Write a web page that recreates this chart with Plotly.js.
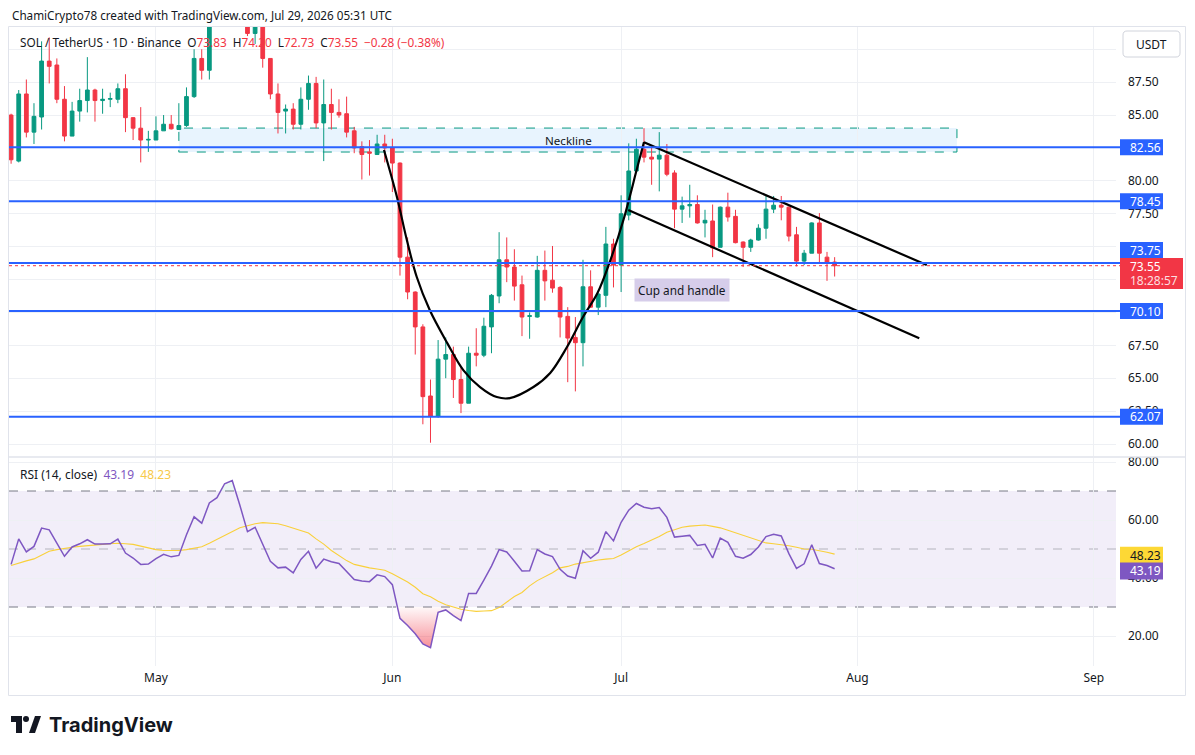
<!DOCTYPE html>
<html><head><meta charset="utf-8">
<script src="https://cdn.plot.ly/plotly-3.0.1.min.js"></script>
<style>html,body{margin:0;padding:0;background:#fff;}#chart{width:1195px;height:755px;}</style>
</head><body><div id="chart"></div>
<script>
// ---- data (SOL/USDT daily, Apr 12 – Jul 29 2026) ----
const firstDay = [2026, 3, 12]; // 2026-04-12 (month is 0-based)
const open  = [85.0,81.5,86.6,83.7,84.85,89.1,88.8,86.2,83.4,85.3,86.1,86.9,86.1,86.2,86.2,87.0,84.8,84.0,83.1,83.1,83.8,84.3,83.9,84.2,86.4,89.3,88.4,93.4,95.3,96.8,97.3,93.8,91.2,92.1,89.3,86.6,85.3,85.45,84.3,86.2,87.4,84.4,85.8,85.2,85.1,83.8,82.6,82.2,82.0,82.8,82.5,81.35,74.2,71.55,68.9,63.65,62.1,66.45,66.8,64.9,63.1,66.9,66.75,68.9,71.25,74.0,73.45,72.1,69.7,69.65,73.2,72.45,71.9,69.7,68.1,67.7,71.95,70.4,71.3,75.2,73.6,77.4,80.75,82.4,81.8,81.65,81.95,80.6,77.85,78.1,78.2,76.8,76.95,74.95,78.0,77.3,75.35,74.95,75.5,76.4,77.85,78.15,78.0,75.9,73.9,74.5,76.8,74.2,73.83];
const high  = [85.1,86.9,87.7,85.9,90.6,90.9,89.3,87.2,86.0,87.0,89.4,87.0,87.0,86.7,87.4,88.1,84.85,85.6,83.8,84.9,85.0,85.0,85.9,87.1,90.0,90.0,94.2,96.2,97.5,98.0,97.6,94.5,92.6,92.6,89.3,87.4,85.8,85.9,87.1,88.0,87.9,87.7,87.0,86.2,86.4,84.1,83.0,83.1,83.5,83.5,83.2,81.4,75.7,71.6,69.1,64.9,67.9,68.1,67.4,65.8,67.4,68.8,69.6,71.4,76.1,75.7,74.8,72.8,70.0,74.3,74.7,75.05,72.0,70.4,69.65,74.0,73.2,71.45,76.5,75.6,78.9,82.85,83.2,84.0,82.6,83.7,82.8,80.8,78.8,79.7,78.9,77.8,78.2,78.05,79.1,77.8,75.4,75.6,76.7,78.85,78.85,78.85,78.05,76.5,74.75,76.85,77.55,74.6,74.2];
const low   = [81.3,81.4,83.3,82.8,83.9,87.4,85.9,83.0,83.4,84.5,85.2,84.5,85.1,85.6,85.9,83.7,83.1,81.4,82.2,83.1,83.8,83.9,83.9,84.1,86.3,87.7,87.7,92.5,94.0,95.5,93.0,91.0,90.4,88.6,86.2,83.6,83.6,83.9,83.9,85.4,84.0,81.5,83.9,84.8,83.3,82.1,80.1,80.4,82.0,81.4,79.15,72.8,71.0,66.8,61.5,60.1,62.0,65.0,63.5,62.35,63.1,65.9,66.6,66.9,70.7,72.3,70.9,68.2,68.0,69.6,70.9,71.5,68.1,64.7,64.0,65.9,70.35,69.8,70.4,71.9,71.55,77.0,80.7,81.4,79.7,79.2,80.35,76.4,76.8,77.2,76.75,75.7,74.2,74.95,76.9,75.25,73.45,74.6,75.45,75.6,77.55,77.0,75.4,73.5,73.6,74.5,73.75,72.4,72.73];
const close = [81.6,86.6,83.7,84.9,89.1,88.7,86.2,83.4,85.3,86.1,86.9,86.1,86.2,86.25,87.0,84.8,84.0,83.1,83.15,83.8,84.3,83.95,84.2,86.4,89.3,88.4,93.4,95.3,96.8,97.3,93.8,91.2,92.1,89.3,86.6,85.2,85.45,84.3,86.2,87.4,84.4,85.8,85.2,85.0,83.7,82.5,82.0,82.1,82.8,82.5,81.35,74.2,71.55,68.9,63.6,62.1,66.45,66.8,64.9,63.1,66.9,66.75,68.95,71.3,74.0,73.45,72.0,69.65,69.75,73.2,72.4,71.85,69.65,68.05,67.7,71.95,70.4,71.4,75.2,73.6,77.5,80.75,82.4,81.8,81.65,81.95,80.5,77.85,78.1,78.2,76.8,77.0,74.9,78.0,77.25,75.3,74.95,75.5,76.4,77.85,78.15,78.0,75.8,73.9,74.5,76.8,74.5,73.75,73.55];
const rsi   = [44.7,53.5,49.0,50.9,57.2,56.6,52.0,47.5,50.7,51.8,53.2,51.7,51.7,51.8,53.4,48.6,46.9,44.7,44.8,46.7,48.2,47.3,47.8,54.9,61.1,58.9,65.9,67.7,72.5,73.6,65.1,56.0,57.5,51.5,45.8,43.5,43.75,41.8,46.4,49.2,43.4,46.5,45.6,45.0,42.4,39.5,39.0,38.75,41.1,40.5,37.7,26.1,23.6,20.8,17.3,16.0,28.2,29.0,27.0,25.3,34.7,34.7,39.3,44.1,49.8,49.0,45.8,42.4,42.5,49.8,48.3,47.4,43.0,40.7,39.9,49.4,46.8,48.9,56.0,52.8,59.2,63.4,65.7,64.4,63.9,64.3,60.9,54.1,54.4,54.7,51.25,51.6,46.9,53.75,52.3,47.5,46.8,48.1,50.7,54.3,55.1,54.5,48.4,43.3,44.9,51.5,45.0,44.3,43.19];
const rsiMA = [44.3,45.2,45.9,46.6,47.8,49.2,49.8,50.3,50.6,50.9,51.2,51.4,51.6,51.8,52.0,51.8,51.6,51.0,50.3,49.8,49.5,49.4,49.5,49.8,50.2,50.8,52.0,53.3,54.8,56.0,57.3,58.0,58.7,59.1,59.0,58.7,58.0,57.1,56.3,55.5,53.5,51.7,49.5,47.8,46.0,44.7,44.0,43.5,43.1,42.7,41.5,40.1,38.6,36.8,34.6,33.5,32.0,30.8,30.0,29.2,28.8,28.5,28.6,28.75,29.8,31.8,33.6,35.0,37.3,39.1,40.5,41.8,43.5,44.0,44.8,45.3,45.9,46.2,46.5,46.7,47.9,49.3,50.8,51.9,53.0,54.3,55.8,56.6,57.5,57.9,58.2,58.3,57.8,57.3,56.5,55.6,54.6,53.7,52.8,52.1,51.8,51.5,51.1,50.6,50.0,49.9,49.5,48.9,48.23];
const levels = [82.56, 78.45, 73.75, 70.10, 62.07];
const levelLabels = ['82.56', '78.45', '73.75', '70.10', '62.07'];
const lastPrice = 73.55, lastPriceLabel = '73.55', countdown = '18:28:57';
const rsiLast = 43.19, rsiMALast = 48.23;
const monthTicks = ['2026-05-01','2026-06-01','2026-07-01','2026-08-01','2026-09-01'];
const monthLabels = ['May','Jun','Jul','Aug','Sep'];
// price scale ticks (labels fully covered by the value boxes in the original are left blank)
const priceTicks = [60, 62.5, 65, 67.5, 70, 72.5, 75, 77.5, 80, 82.5, 85, 87.5, 90];
const priceTickText = ['60.00','62.50','65.00','67.50','','','','77.50','80.00','','85.00','87.50',''];
const rsiTicks = [20, 40, 60, 80];
const rsiTickText = ['20.00','40.00','60.00','80.00'];
// drawings (anchor points in date / price)
const cupX = ['2026-05-30 21:36','2026-06-01 14:24','2026-06-02 21:36','2026-06-04 04:48','2026-06-05 21:36','2026-06-08 04:48','2026-06-10 07:12','2026-06-12 12:00','2026-06-14 16:48','2026-06-16 09:36','2026-06-19 12:00','2026-06-21 16:48','2026-06-23 21:36','2026-06-26 00:00','2026-06-27 21:36','2026-06-29 14:24','2026-07-01 07:12','2026-07-03 02:24','2026-07-04 00:00'];
const cupY = [82.34,78.77,75.50,72.69,70.18,67.67,65.62,64.33,63.57,63.49,64.33,65.40,67.37,69.65,71.47,73.98,77.02,80.97,82.95];
const upperX = ['2026-07-04 00:00','2026-08-10 02:00'], upperY = [82.93, 73.60];
const lowerX = ['2026-07-01 22:30','2026-08-09 02:24'], lowerY = [77.78, 68.03];
const neckX = ['2026-05-04 00:00','2026-08-14 01:00'], neckY = [82.19, 84.01];

// ---- helpers ----
const W = 1195, H = 755;
const px = x => x / W, py = y => 1 - y / H;
const tms = close.map((_, i) => Date.UTC(firstDay[0], firstDay[1], firstDay[2] + i));
const dates = tms.map(t => new Date(t).toISOString().slice(0, 10));
const FONT = '"Noto Sans", sans-serif';

function zones(thr, below) {
  const out = []; let cur = null;
  for (let i = 0; i < rsi.length; i++) {
    const b = below ? rsi[i] < thr : rsi[i] > thr;
    const cross = () => { const f = (thr - rsi[i-1]) / (rsi[i] - rsi[i-1]); return tms[i-1] + f * (tms[i] - tms[i-1]); };
    if (b) {
      if (!cur) { cur = {x: [], y: []}; if (i > 0) { cur.x.push(cross()); cur.y.push(thr); } }
      cur.x.push(tms[i]); cur.y.push(rsi[i]);
    } else if (cur) { cur.x.push(cross()); cur.y.push(thr); out.push(cur); cur = null; }
  }
  if (cur) out.push(cur);
  return out;
}

const traces = [];
traces.push({type:'candlestick', x:dates, open:open, high:high, low:low, close:close, xaxis:'x', yaxis:'y',
  increasing:{line:{color:'#089981', width:1}, fillcolor:'#089981'},
  decreasing:{line:{color:'#f23645', width:1}, fillcolor:'#f23645'},
  whiskerwidth:0, hoverinfo:'skip', showlegend:false});
traces.push({type:'scatter', mode:'lines', x:cupX, y:cupY, xaxis:'x', yaxis:'y', line:{color:'#000', width:2.2, shape:'spline', smoothing:1}, hoverinfo:'skip'});
traces.push({type:'scatter', mode:'lines', x:upperX, y:upperY, xaxis:'x', yaxis:'y', line:{color:'#000', width:2.2}, hoverinfo:'skip'});
traces.push({type:'scatter', mode:'lines', x:lowerX, y:lowerY, xaxis:'x', yaxis:'y', line:{color:'#000', width:2.2}, hoverinfo:'skip'});
zones(30, true).forEach(z => traces.push({type:'scatter', mode:'none', x:z.x, y:z.y, xaxis:'x', yaxis:'y2', fill:'toself',
  fillcolor:'rgba(242,54,69,0.3)', fillgradient:{type:'vertical', colorscale:[[0,'rgba(242,54,69,0.55)'],[1,'rgba(242,54,69,0.03)']]}, hoverinfo:'skip'}));
zones(70, false).forEach(z => traces.push({type:'scatter', mode:'none', x:z.x, y:z.y, xaxis:'x', yaxis:'y2', fill:'toself',
  fillcolor:'rgba(8,153,129,0.08)', hoverinfo:'skip'}));
traces.push({type:'scatter', mode:'lines', x:dates, y:rsiMA, xaxis:'x', yaxis:'y2', line:{color:'#f9d03a', width:1.1}, hoverinfo:'skip'});
traces.push({type:'scatter', mode:'lines', x:dates, y:rsi, xaxis:'x', yaxis:'y2', line:{color:'#7e57c2', width:1.5}, hoverinfo:'skip'});

const grid = '#eef0f4';
const shapes = [];
// RSI band and guide lines
shapes.push({type:'rect', xref:'paper', x0:px(9), x1:px(1116), yref:'y2', y0:30, y1:70, fillcolor:'rgba(126,87,194,0.1)', line:{width:0}, layer:'below'});
shapes.push({type:'line', xref:'paper', x0:px(9), x1:px(1116), yref:'y2', y0:70, y1:70, line:{color:'#787b86', width:1, dash:'dash'}, layer:'below'});
shapes.push({type:'line', xref:'paper', x0:px(9), x1:px(1116), yref:'y2', y0:30, y1:30, line:{color:'#787b86', width:1, dash:'dash'}, layer:'below'});
shapes.push({type:'line', xref:'paper', x0:px(9), x1:px(1116), yref:'y2', y0:50, y1:50, line:{color:'rgba(120,123,134,0.5)', width:1, dash:'dash'}, layer:'below'});
// neckline box
shapes.push({type:'rect', xref:'x', yref:'y', x0:neckX[0], x1:neckX[1], y0:neckY[0], y1:neckY[1], fillcolor:'rgba(33,150,243,0.1)', line:{color:'#089981', width:1, dash:'dash'}, layer:'below'});
// horizontal levels
levels.forEach(l => shapes.push({type:'line', xref:'paper', x0:px(9), x1:px(1120), yref:'y', y0:l, y1:l, line:{color:'#2962ff', width:2}, layer:'above'}));
shapes.push({type:'line', xref:'paper', x0:px(9), x1:px(1120), yref:'y', y0:lastPrice, y1:lastPrice, line:{color:'#f23645', width:1, dash:'dot'}, layer:'above'});
// frame
shapes.push({type:'rect', xref:'paper', yref:'paper', x0:px(8.5), x1:px(1185.5), y0:py(695.5), y1:py(26.5), line:{color:'#e0e3eb', width:1}, fillcolor:'rgba(0,0,0,0)', layer:'above'});
shapes.push({type:'line', xref:'paper', yref:'paper', x0:px(8.5), x1:px(1185.5), y0:py(457), y1:py(457), line:{color:'#e0e3eb', width:1.5}, layer:'above'});
// USDT button (rounded)
const P = (x, y) => px(x).toFixed(5) + ',' + py(y).toFixed(5);
function roundRect(x0, y0, x1, y1, r) {
  return 'M' + P(x0 + r, y0) + ' L' + P(x1 - r, y0) + ' Q' + P(x1, y0) + ' ' + P(x1, y0 + r) + ' L' + P(x1, y1 - r) +
    ' Q' + P(x1, y1) + ' ' + P(x1 - r, y1) + ' L' + P(x0 + r, y1) + ' Q' + P(x0, y1) + ' ' + P(x0, y1 - r) +
    ' L' + P(x0, y0 + r) + ' Q' + P(x0, y0) + ' ' + P(x0 + r, y0) + ' Z';
}
shapes.push({type:'path', xref:'paper', yref:'paper', path:roundRect(1123, 31, 1180, 57, 4), line:{color:'#d1d4dc', width:1}, fillcolor:'#ffffff', layer:'above'});
// axis value label boxes (pixel-sized around their value)
const labelBox = (yref, val, lo, hi, x1, color) => ({type:'rect', xref:'paper', x0:px(1120), x1:px(x1), yref:yref, ysizemode:'pixel', yanchor:val, y0:lo, y1:hi, fillcolor:color, line:{width:0}, layer:'above'});
levels.forEach((l, i) => shapes.push(labelBox('y', l, i === 2 ? 5 : -8, i === 2 ? 21 : 8, 1163, '#2962ff')));
shapes.push(labelBox('y', lastPrice, -23.4, 7.6, 1183, '#f23645'));
shapes.push(labelBox('y2', rsiMALast, -9.7, 7.3, 1163, '#fdd835'));
shapes.push(labelBox('y2', rsiLast, -10.7, 6.3, 1163, '#7e57c2'));
// TradingView logo mark
shapes.push({type:'path', xref:'paper', yref:'paper', path:'M' + P(11,716) + ' L' + P(22,716) + ' L' + P(22,733) + ' L' + P(16,733) + ' L' + P(16,722) + ' L' + P(11,722) + ' Z', fillcolor:'#131722', line:{width:0}, layer:'above'});
shapes.push({type:'circle', xref:'paper', yref:'paper', x0:px(23), x1:px(29), y0:py(722), y1:py(716), fillcolor:'#131722', line:{width:0}, layer:'above'});
shapes.push({type:'path', xref:'paper', yref:'paper', path:'M' + P(29,733) + ' L' + P(35,716) + ' L' + P(41,716) + ' L' + P(35,733) + ' Z', fillcolor:'#131722', line:{width:0}, layer:'above'});

const red = '#f23645';
const sp = '\u00a0';
const ann = [];
ann.push({xref:'paper', yref:'paper', x:px(10), y:py(15), xanchor:'left', yanchor:'middle', showarrow:false,
  text:'ChamiCrypto78 created with TradingView.com, Jul 29, 2026 05:31 UTC', font:{size:11.7, color:'#131722'}});
const v = s => '<span style="color:' + red + '">' + s + '</span>';
ann.push({xref:'paper', yref:'paper', x:px(18), y:py(42), xanchor:'left', yanchor:'middle', showarrow:false,
  text:'SOL / TetherUS · 1D · Binance' + sp + sp + 'O' + v('73.83') + sp + sp + 'H' + v('74.20') + sp + sp + 'L' + v('72.73') + sp + sp + 'C' + v('73.55') + sp + sp + v('−0.28 (−0.38%)'),
  font:{size:11.8, color:'#131722'}});
ann.push({xref:'paper', yref:'paper', x:px(18), y:py(474), xanchor:'left', yanchor:'middle', showarrow:false,
  text:'RSI (14, close)' + sp + sp + '<span style="color:#7e57c2">43.19</span>' + sp + sp + '<span style="color:#f7c948">48.23</span>', font:{size:12, color:'#131722'}});
ann.push({xref:'x', yref:'y', x:'2026-06-24 01:00', y:(neckY[0] + neckY[1]) / 2, yanchor:'middle', showarrow:false, text:'Neckline', font:{size:11.6, color:'#131722'}});
ann.push({xref:'x', yref:'y', x:'2026-07-09', y:71.74, yanchor:'middle', showarrow:false, text:'Cup and handle', font:{size:11.8, color:'#131722'}, bgcolor:'#d6cdea', borderpad:3});
// axis value label texts
const lbl = (yref, val, text, color, shift) => ({xref:'paper', yref:yref, x:px(1127.5), y:val, xanchor:'left', yanchor:'middle', yshift:shift || 0, showarrow:false, text:text, font:{size:12, color:color}});
levels.forEach((l, i) => ann.push(lbl('y', l, levelLabels[i], '#ffffff', i === 2 ? 13 : 0)));
ann.push(lbl('y', lastPrice, lastPriceLabel, '#ffffff', -1));
ann.push(lbl('y', lastPrice, countdown, 'rgba(255,255,255,0.85)', -15));
ann.push(lbl('y2', rsiMALast, rsiMALast.toFixed(2), '#131722', -1.2));
ann.push(lbl('y2', rsiLast, rsiLast.toFixed(2), '#ffffff', -2.2));
ann.push({xref:'paper', yref:'paper', x:px(1151.5), y:py(44), xanchor:'center', yanchor:'middle', showarrow:false, text:'USDT', font:{size:12, color:'#131722'}});
ann.push({xref:'paper', yref:'paper', x:px(47), y:py(725), xanchor:'left', yanchor:'middle', showarrow:false, text:'<b>TradingView</b>', font:{size:20, color:'#131722', family:'Inter, sans-serif'}});

const layout = {
  width:W, height:H, margin:{l:0, r:0, t:0, b:0}, paper_bgcolor:'#fff', plot_bgcolor:'#fff', showlegend:false,
  font:{family:FONT, size:12, color:'#131722'},
  xaxis:{type:'date', domain:[px(9), px(1116)], range:['2026-04-11 17:24', '2026-09-03 21:36'], anchor:'y2',
    tickvals:monthTicks, ticktext:monthLabels, showgrid:true, gridcolor:grid, zeroline:false, showline:false, ticks:'',
    rangeslider:{visible:false}, tickfont:{size:12, color:'#131722'}, ticklabelstandoff:3, fixedrange:true},
  yaxis:{domain:[py(456), py(27)], range:[59.09, 91.69], side:'right', anchor:'x', tickvals:priceTicks, ticktext:priceTickText,
    showgrid:true, gridcolor:grid, zeroline:false, showline:false, ticks:'', tickfont:{size:12, color:'#131722'}, ticklabelstandoff:11, fixedrange:true},
  yaxis2:{domain:[py(666), py(458)], range:[9.66, 81.38], side:'right', anchor:'x', tickvals:rsiTicks, ticktext:rsiTickText,
    showgrid:true, gridcolor:grid, zeroline:false, showline:false, ticks:'', tickfont:{size:12, color:'#131722'}, ticklabelstandoff:11, fixedrange:true},
  shapes:shapes, annotations:ann
};
Plotly.newPlot('chart', traces, layout, {staticPlot:true, displayModeBar:false});
</script>
</body></html>
